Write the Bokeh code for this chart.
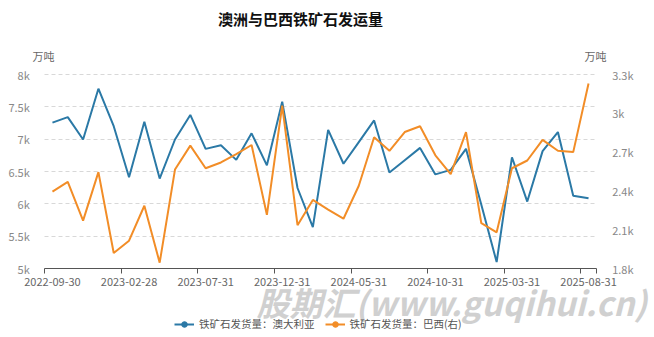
import calendar
from bokeh.plotting import figure
from bokeh.models import (Range1d, LinearAxis, FixedTicker, Label, Legend, LegendItem,
                          ColumnDataSource)
from bokeh.embed import file_html
from bokeh.resources import INLINE

# ---------------- data ----------------
months = []
y0, m0 = 2022, 9
for i in range(36):
    y = y0 + (m0 - 1 + i) // 12
    m = (m0 - 1 + i) % 12 + 1
    d = calendar.monthrange(y, m)[1]
    months.append(f"{y}-{m:02d}-{d:02d}")

australia = [7255, 7340, 6995, 7780, 7200, 6410, 7270, 6390, 6995, 7375,
             6850, 6905, 6680, 7090, 6595, 7580, 6245, 5640, 7145, 6620,
             6955, 7290, 6485, 6675, 6865, 6455, 6525, 6850, 5985, 5100,
             6720, 6035, 6815, 7110, 6125, 6085]
brazil = [2395, 2470, 2170, 2545, 1920, 2015, 2285, 1845, 2565, 2750,
          2575, 2620, 2685, 2755, 2215, 3060, 2135, 2330, 2255, 2185,
          2440, 2815, 2710, 2855, 2900, 2675, 2530, 2855, 2150, 2080,
          2575, 2635, 2795, 2710, 2700, 3230]

left_ticks = [5000, 5500, 6000, 6500, 7000, 7500, 8000]
left_labels = ["5k", "5.5k", "6k", "6.5k", "7k", "7.5k", "8k"]
right_ticks = [1800, 2100, 2400, 2700, 3000, 3300]
right_labels = ["1.8k", "2.1k", "2.4k", "2.7k", "3k", "3.3k"]

title = "澳洲与巴西铁矿石发运量"
unit = "万吨"
name_au = "铁矿石发货量：澳大利亚"
name_br = "铁矿石发货量：巴西(右)"
watermark = "股期汇(www.guqihui.cn)"

BLUE = "#2b79a6"
ORANGE = "#f28d27"
FONT = "Noto Sans CJK SC"

# ---------------- layout geometry (pixels) ----------------
W, H = 654, 337
PL, PR, PT, PB = 44.3, 595.7, 74.0, 268.0   # plot area edges on the canvas

n = len(months)
xs = list(range(n))
x_lo, x_hi = -0.5, n - 0.5
ux = (PR - PL) / (x_hi - x_lo)
yl_lo, yl_hi = left_ticks[0], left_ticks[-1]
uyl = (PB - PT) / (yl_hi - yl_lo)
yr_lo, yr_hi = right_ticks[0], right_ticks[-1]
uyr = (PB - PT) / (yr_hi - yr_lo)

p = figure(width=W, height=H, output_backend="svg", toolbar_location=None,
           x_range=Range1d(x_lo - PL / ux, x_hi + (W - PR) / ux),
           y_range=Range1d(yl_lo - (H - PB) / uyl, yl_hi + PT / uyl),
           min_border=0, min_border_left=0, min_border_right=0,
           min_border_top=0, min_border_bottom=0)
p.outline_line_color = None
p.background_fill_color = "white"
p.border_fill_color = "white"
p.extra_y_ranges = {"right": Range1d(yr_lo - (H - PB) / uyr, yr_hi + PT / uyr)}

# x axis drawn at the bottom of the plot area
label_idx = list(range(0, n, 5))
boundaries = [i - 0.5 for i in label_idx] + [x_hi]
xax = p.below[0]
xax.fixed_location = yl_lo
xax.bounds = (x_lo, x_hi)
xax.ticker = FixedTicker(ticks=label_idx, minor_ticks=boundaries)
xax.major_label_overrides = {i: months[i] for i in label_idx}
xax.major_tick_out = 0
xax.major_tick_in = 0
xax.minor_tick_out = 5
xax.minor_tick_in = 0
xax.minor_tick_line_color = "#555555"
xax.axis_line_color = "#555555"
xax.major_label_text_font = FONT
xax.major_label_text_font_size = "11px"
xax.major_label_text_color = "#666666"
xax.major_label_standoff = 4

# left y axis
yax = p.left[0]
yax.fixed_location = x_lo
yax.bounds = (yl_lo, yl_hi)
yax.ticker = FixedTicker(ticks=left_ticks)
yax.major_label_overrides = {t: l for t, l in zip(left_ticks, left_labels)}
yax.axis_line_color = None
yax.major_tick_line_color = None
yax.minor_tick_line_color = None
yax.major_label_text_font = FONT
yax.major_label_text_font_size = "11px"
yax.major_label_text_color = "#888888"
yax.major_label_standoff = 9

# right y axis
rax = LinearAxis(y_range_name="right", fixed_location=x_hi, bounds=(yr_lo, yr_hi))
rax.ticker = FixedTicker(ticks=right_ticks)
rax.major_label_overrides = {t: l for t, l in zip(right_ticks, right_labels)}
rax.axis_line_color = None
rax.major_tick_line_color = None
rax.minor_tick_line_color = None
rax.major_label_text_font = FONT
rax.major_label_text_font_size = "11px"
rax.major_label_text_color = "#888888"
rax.major_label_standoff = 10
p.add_layout(rax, "right")

# horizontal dashed grid limited to the plot area
p.xgrid.visible = False
grid = p.ygrid[0]
grid.ticker = FixedTicker(ticks=left_ticks)
if "cross_bounds" in grid.properties():
    grid.cross_bounds = (x_lo, x_hi)
    grid.grid_line_color = "#d8d8d8"
    grid.grid_line_dash = "4 3"
else:
    grid.visible = False
    p.segment(x0=[x_lo] * len(left_ticks), x1=[x_hi] * len(left_ticks),
              y0=left_ticks, y1=left_ticks, line_color="#d8d8d8", line_dash="4 3",
              level="underlay")

# series
l_au = p.line(xs, australia, line_color=BLUE, line_width=2)
l_br = p.line(xs, brazil, line_color=ORANGE, line_width=2, y_range_name="right")
dummy = ColumnDataSource(data=dict(x=[float("nan")], y=[float("nan")]))
s_au = p.scatter("x", "y", source=dummy, size=8, fill_color=BLUE, line_color=BLUE)
s_br = p.scatter("x", "y", source=dummy, size=8, fill_color=ORANGE, line_color=ORANGE)

# texts (screen units: from canvas left / canvas bottom)
p.add_layout(Label(x=300, y=H - 18, x_units="screen", y_units="screen", text=title,
                   text_font=FONT, text_font_style="bold", text_font_size="15px",
                   text_color="#111111", text_align="center", text_baseline="middle"))
for ux_pos in (43, 595):
    p.add_layout(Label(x=ux_pos, y=H - 55, x_units="screen", y_units="screen", text=unit,
                       text_font=FONT, text_font_size="11px", text_color="#666666",
                       text_align="center", text_baseline="middle"))
p.add_layout(Label(x=256, y=H - 301, x_units="screen", y_units="screen", text=watermark,
                   text_font=FONT, text_font_style="bold italic", text_font_size="33px",
                   text_color="#d0d0d0", text_align="left", text_baseline="middle"))

legend = Legend(items=[LegendItem(label=name_au, renderers=[l_au, s_au], index=0),
                       LegendItem(label=name_br, renderers=[l_br, s_br], index=0)],
                orientation="horizontal", location=(174, H - 331),
                background_fill_alpha=0, border_line_color=None,
                label_text_font=FONT, label_text_font_size="10.5px",
                label_text_color="#555555", glyph_width=20, glyph_height=14,
                label_height=14, label_standoff=5, spacing=10, padding=0, margin=0)
p.add_layout(legend, "center")

open("out.html", "w").write(file_html(p, INLINE))
